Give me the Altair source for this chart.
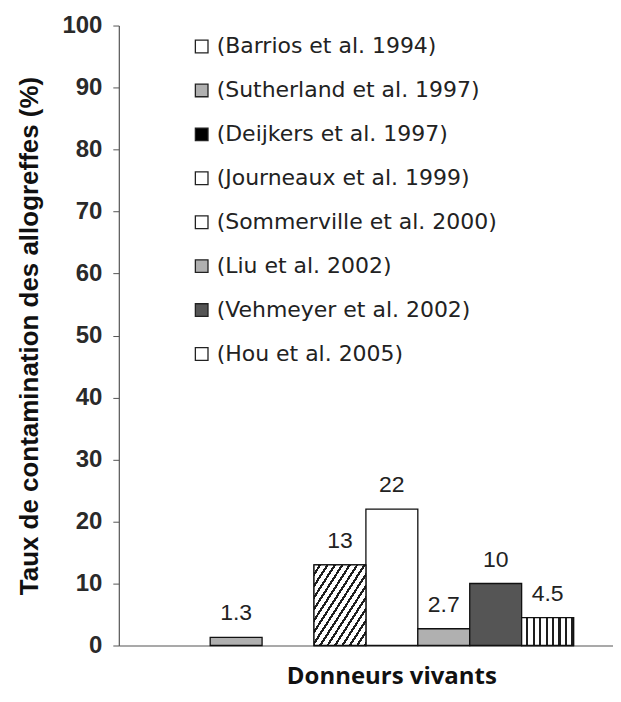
import altair as alt
import pandas as pd

studies = [
    "(Barrios et al. 1994)",
    "(Sutherland et al. 1997)",
    "(Deijkers et al. 1997)",
    "(Journeaux et al. 1999)",
    "(Sommerville et al. 2000)",
    "(Liu et al. 2002)",
    "(Vehmeyer et al. 2002)",
    "(Hou et al. 2005)",
]
values = [0, 1.3, 0, 13, 22, 2.7, 10, 4.5]
value_labels = ["", "1.3", "", "13", "22", "2.7", "10", "4.5"]
patterns = ["solid", "solid", "solid", "hatch", "solid", "solid", "solid", "vstripe"]
fills = ["#ffffff", "#b0b0b0", "#000000", "#ffffff", "#ffffff", "#b0b0b0", "#555555", "#ffffff"]
group_name = "Donneurs vivants"
y_ticks = [0, 10, 20, 30, 40, 50, 60, 70, 80, 90, 100]

df = pd.DataFrame({
    "group": [group_name] * len(studies),
    "study": studies,
    "value": values,
    "label": value_labels,
    "pattern": patterns,
})


def stripes(n, frac, x2, y2, light="#ffffff", dark="#1e1e1e"):
    stops = []
    for i in range(n):
        a = i / n
        b = (i + frac) / n
        c = (i + 1) / n
        stops += [
            alt.GradientStop(offset=a, color=light),
            alt.GradientStop(offset=b, color=light),
            alt.GradientStop(offset=b, color=dark),
            alt.GradientStop(offset=c, color=dark),
        ]
    return alt.LinearGradient(gradient="linear", stops=stops, x1=0, y1=0, x2=x2, y2=y2)


hatch = stripes(14, 0.65, 1, 1)
vstripe = stripes(8, 0.68, 1, 0)

x_enc = alt.X(
    "group:N",
    scale=alt.Scale(paddingOuter=0.095, paddingInner=0),
    axis=alt.Axis(
        labels=False, ticks=False, title=group_name, titleFont="Open Sans",
        titleFontSize=24, titleFontWeight="bold", titleColor="#111",
        titlePadding=19, titleX=273, titleAnchor="middle",
        domainColor="#555", domainWidth=1.2,
    ),
)
xo_enc = alt.XOffset("study:N", sort=studies,
                     scale=alt.Scale(domain=studies, paddingInner=0, paddingOuter=0))
y_enc = alt.Y(
    "value:Q",
    scale=alt.Scale(domain=[0, 100], nice=False),
    axis=alt.Axis(
        values=y_ticks, grid=False, title="Taux de contamination des allogreffes (%)",
        titleFont="Liberation Sans", titleFontSize=26, titleFontWeight="bold",
        titleColor="#111", titlePadding=19,
        labelFont="Liberation Sans", labelFontSize=24,
        labelFontWeight="bold", labelColor="#2a2a2a", labelPadding=11,
        tickSize=6, tickColor="#555", domainColor="#555", domainWidth=1.2,
    ),
)

base = alt.Chart(df).encode(x=x_enc, xOffset=xo_enc, y=y_enc)

bars = base.mark_bar(stroke="#111", strokeWidth=1.3).encode(
    fill=alt.Fill(
        "study:N",
        sort=studies,
        scale=alt.Scale(domain=studies, range=fills),
        legend=alt.Legend(
            title=None, orient="none", legendX=72, legendY=10,
            symbolType="square", symbolSize=160, symbolStrokeColor="#222",
            symbolStrokeWidth=1.3, labelFont="DejaVu Sans", labelFontSize=22,
            labelColor="#222", rowPadding=22, labelOffset=4, labelLimit=450,
        ),
    )
).transform_filter(alt.datum.value > 0)

hatch_bars = base.mark_bar(fill=hatch, stroke="#111", strokeWidth=1.3).transform_filter(
    alt.datum.pattern == "hatch")
stripe_bars = base.mark_bar(fill=vstripe, stroke="#111", strokeWidth=1.3).transform_filter(
    alt.datum.pattern == "vstripe")

text = base.mark_text(
    font="Liberation Sans", fontSize=23, color="#222", baseline="middle", dy=-24
).encode(text="label:N").transform_filter(alt.datum.value > 0)

chart = alt.layer(bars, hatch_bars, stripe_bars, text).properties(
    width=495, height=621,
    padding={"left": 8, "top": 5, "right": 0, "bottom": 4},
).configure_view(stroke=None)

chart.save("out.html", embed_options={"renderer": "svg", "actions": False})
